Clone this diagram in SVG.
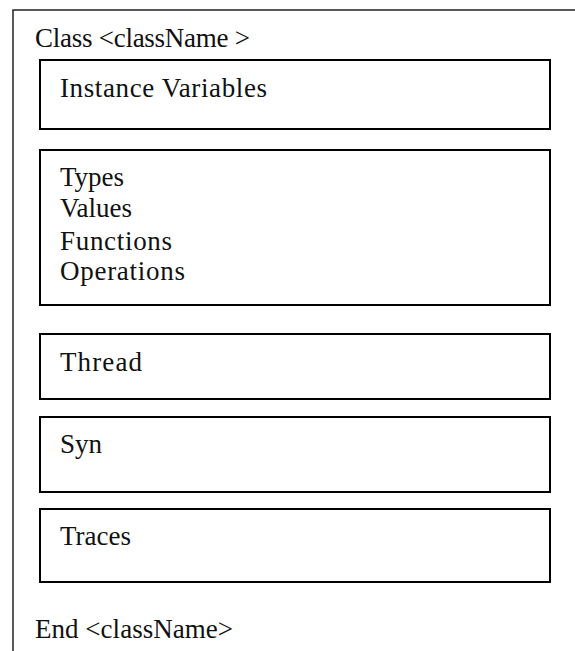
<svg xmlns="http://www.w3.org/2000/svg" width="575" height="651" viewBox="0 0 575 651">
<style>
.frame{fill:none;stroke:#222;stroke-width:1.5}
.box{fill:#fff;stroke:#000;stroke-width:2}
.t{font-family:"Liberation Serif","Times New Roman",serif;font-size:27px;fill:#111}
</style>
<rect width="575" height="651" fill="#fff"/>
<g id="frame">
<path class="frame" d="M13,651 V10 H576"/>
<text class="t" x="35" y="47" textLength="215">Class &lt;className &gt;</text>
<text class="t" x="35" y="638" textLength="198">End &lt;className&gt;</text>
</g>
<g id="instance-variables">
<rect class="box" x="40" y="60" width="510" height="69"/>
<text class="t" x="60" y="97" textLength="207">Instance Variables</text>
</g>
<g id="definitions">
<rect class="box" x="40" y="150" width="510" height="155"/>
<text class="t" x="60" y="186">Types</text>
<text class="t" x="60" y="217">Values</text>
<text class="t" x="60" y="250" textLength="112">Functions</text>
<text class="t" x="60" y="280" textLength="125">Operations</text>
</g>
<g id="thread">
<rect class="box" x="40" y="334" width="510" height="65"/>
<text class="t" x="60" y="371" textLength="82">Thread</text>
</g>
<g id="syn">
<rect class="box" x="40" y="417" width="510" height="75"/>
<text class="t" x="60" y="453">Syn</text>
</g>
<g id="traces">
<rect class="box" x="40" y="509" width="510" height="73"/>
<text class="t" x="60" y="545">Traces</text>
</g>
<g id="connectors"></g>
</svg>
